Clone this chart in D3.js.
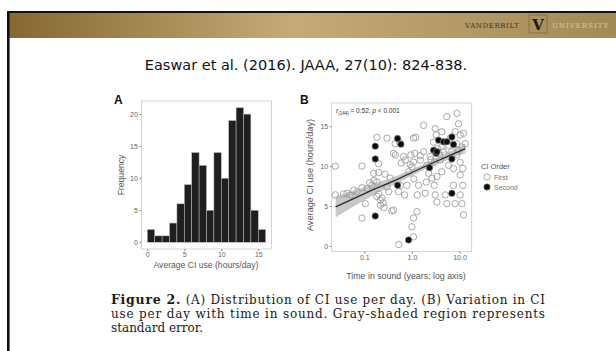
<!DOCTYPE html>
<html>
<head>
<meta charset="utf-8">
<script src="https://cdn.jsdelivr.net/npm/d3@7"></script>
<style>
  body { margin: 0; background: #fff; }
  svg { display: block; }
</style>
</head>
<body>
<svg id="slide" width="616" height="351"></svg>
<script>
// histogram (panel A): bin start (hours/day) and counts
var binStarts = [0,1,2,3,4,5,6,7,8,9,10,11,12,13,14,15]
var binCounts = [2,1,1,3,6,9,14,12,5,14,10,19,21,20,5,2]
var histXTicks = [0,5,10,15]
var histYTicks = [0,5,10,15,20]

// scatter (panel B): [years in sound, hours/day]
var firstOrder = [
  [0.0247,10.0],[0.0247,6.4],[0.0368,6.5],[0.0508,6.4],[0.0702,6.8],[0.0893,10.0],[0.0893,3.5],
  [0.105,5.3],[0.114,7.2],[0.145,7.6],[0.157,9.1],[0.184,8.0],[0.184,6.2],[0.200,10.3],[0.217,5.1],
  [0.217,5.75],[0.235,6.0],[0.184,13.6],[0.299,13.5],[0.351,8.5],[0.324,6.8],[0.380,4.4],[0.412,4.5],
  [0.412,11.6],[0.447,12.8],[0.569,7.6],[0.525,6.8],[0.668,11.2],[0.725,10.75],[0.785,7.6],[0.851,9.3],
  [0.923,10.2],[1.0,9.9],[1.08,13.5],[1.08,10.5],[1.08,3.5],[1.0,2.4],[1.08,1.15],[1.27,4.3],[1.38,7.6],
  [1.50,10.75],[1.76,11.8],[1.76,15.1],[1.90,6.6],[2.06,10.1],[2.24,9.1],[2.42,11.2],[2.63,8.5],
  [2.85,13.0],[2.94,7.6],[3.09,6.4],[3.09,14.7],[3.24,13.9],[3.35,8.7],[3.45,12.2],[3.63,11.6],
  [3.93,10.75],[4.26,12.4],[4.26,14.3],[4.62,11.8],[5.0,11.4],[5.0,6.4],[5.42,5.3],[5.42,16.2],
  [5.88,12.6],[5.88,10.1],[6.37,13.5],[6.91,11.8],[7.48,9.7],[7.48,7.6],[8.11,14.3],[8.79,12.8],
  [8.79,11.4],[8.79,16.6],[9.53,15.3],[9.53,12.0],[10.3,13.9],[10.3,10.5],[10.3,8.9],[10.3,6.4],
  [11.2,12.4],[11.2,5.3],[11.7,9.7],[11.7,7.6],[12.1,3.9],[13.2,12.8],[12.1,14.1],[4.26,9.3],
  [3.35,5.5],[8.11,5.3],[0.0433,6.6],[0.06,7.0],[0.09,7.3],[0.13,7.9],[0.16,8.2],[0.2,6.5],
  [0.25,5.4],[0.27,9.0],[0.3,7.4],[0.2,9.2],[0.26,4.8],[0.6,10.4],[0.7,6.4],[1.1,8.4],[1.3,6.4],
  [0.95,11.4],[1.5,11.3],[2.0,8.0],[2.5,10.8],[3.0,10.5],[1.2,13.6],[1.15,11.6],[0.55,13.0],
  [0.45,11.4],[0.53,0.2]
]
var secondOrder = [
  [0.170,12.5],[0.170,10.9],[0.170,3.75],[0.50,13.45],[0.588,12.75],[0.50,7.6],[0.851,0.75],
  [2.35,9.8],[2.85,12.0],[3.24,11.6],[3.63,13.25],[4.62,13.05],[5.42,13.05],[6.91,13.65],
  [7.48,12.7],[6.91,10.9],[6.91,6.6],[3.35,11.8]
]
// fitted line with standard error band
var fitYears = [0.025,0.063,0.158,0.40,1.0,2.5,6.3,13.2]
var fitHours = [4.9,6.0,7.1,8.1,9.2,10.3,11.35,12.2]
var seLow    = [3.6,5.05,6.4,7.6,8.8,9.95,10.9,11.6]
var seHigh   = [6.2,6.95,7.8,8.6,9.6,10.65,11.8,12.8]
var scatXTicks = [0.1,1,10]
var scatYTicks = [0,5,10,15]

var svg = d3.select('#slide')

// header bar
var grad = svg.append('defs').append('linearGradient').attr('id','gold')
grad.append('stop').attr('offset','0%').attr('stop-color','#856830')
grad.append('stop').attr('offset','47%').attr('stop-color','#c6aa78')
grad.append('stop').attr('offset','100%').attr('stop-color','#a28a57')
svg.append('rect').attr('x',8).attr('y',12).attr('width',608).attr('height',26).attr('fill','url(#gold)')
svg.append('line').attr('x1',7).attr('x2',616).attr('y1',12).attr('y2',12).style('stroke','#111').style('stroke-width',2.2)
svg.append('line').attr('x1',8.3).attr('x2',8.3).attr('y1',11).attr('y2',351).style('stroke','#111').style('stroke-width',2.6)

svg.append('text').attr('x',465).attr('y',28).text('VANDERBILT')
  .style('font-family','DejaVu Serif').style('font-size','7px').style('fill','#3a2f1c').style('letter-spacing','0.6px')
svg.append('rect').attr('x',529).attr('y',15).attr('width',18).attr('height',18)
  .attr('fill','none').style('stroke','#7a6a48').style('stroke-width',0.8)
svg.append('text').attr('x',538).attr('y',30).attr('text-anchor','middle').text('V')
  .style('font-family','DejaVu Serif').style('font-weight','bold').style('font-size','15px').style('fill','#1c1812')
svg.append('text').attr('x',552).attr('y',28).text('UNIVERSITY')
  .style('font-family','DejaVu Serif').style('font-size','7px').style('fill','#d9caa2').style('letter-spacing','1px')

// title
svg.append('text').attr('x',306).attr('y',70).attr('text-anchor','middle')
  .text('Easwar et al. (2016). JAAA, 27(10): 824-838.')
  .style('font-family','DejaVu Sans').style('font-size','14.5px').style('fill','#111')

var tickFont = function(sel){
  sel.selectAll('text').style('font-family','Liberation Sans').style('font-size','7px').style('fill','#666')
  sel.selectAll('line').style('stroke','#888')
  sel.select('.domain').remove()
}

// ---------- panel A ----------
var ax = d3.scaleLinear().domain([-0.8,16.8]).range([141.4,271.6])
var ay = d3.scaleLinear().domain([-1.05,22.05]).range([249,101])
var pA = svg.append('g')
pA.append('rect').attr('x',ax.range()[0]).attr('y',ay.range()[1])
  .attr('width',ax.range()[1]-ax.range()[0]).attr('height',ay.range()[0]-ay.range()[1])
  .attr('fill','#fff').style('stroke','#c8c8c8').style('stroke-width',0.8)
pA.selectAll('rect.bar').data(binCounts).enter().append('rect').attr('class','bar')
  .attr('x',function(d,i){ return ax(binStarts[i]) })
  .attr('y',function(d){ return ay(d) })
  .attr('width',function(d,i){ return ax(binStarts[i]+1)-ax(binStarts[i]) })
  .attr('height',function(d){ return ay(0)-ay(d) })
  .attr('fill','#1f1f1f').style('stroke','#bdbdbd').style('stroke-width',0.5)
pA.append('g').attr('transform','translate(0,249)')
  .call(d3.axisBottom(ax).tickValues(histXTicks).tickSize(2).tickPadding(1.5)).call(tickFont)
pA.append('g').attr('transform','translate(141.4,0)')
  .call(d3.axisLeft(ay).tickValues(histYTicks).tickSize(2).tickPadding(1.5)).call(tickFont)
pA.append('text').attr('x',206).attr('y',268).attr('text-anchor','middle').text('Average CI use (hours/day)')
  .style('font-family','Liberation Sans').style('font-size','8.6px').style('fill','#555')
pA.append('text').attr('transform','translate(124,175) rotate(-90)').attr('text-anchor','middle').text('Frequency')
  .style('font-family','Liberation Sans').style('font-size','8.6px').style('fill','#555')
pA.append('text').attr('x',114).attr('y',104).text('A')
  .style('font-family','Liberation Sans').style('font-weight','bold').style('font-size','12px').style('fill','#111')

// ---------- panel B ----------
var bx = d3.scaleLog().domain([0.0207,18]).range([331.7,471.7])
var by = d3.scaleLinear().domain([-0.71,17.9]).range([251.7,103])
var pB = svg.append('g')
pB.append('rect').attr('x',331.7).attr('y',103).attr('width',140).attr('height',148.7)
  .attr('fill','#fff').style('stroke','#c8c8c8').style('stroke-width',0.8)

var band = d3.area()
  .x(function(d,i){ return bx(fitYears[i]) })
  .y0(function(d,i){ return by(seLow[i]) })
  .y1(function(d,i){ return by(seHigh[i]) })
  .curve(d3.curveMonotoneX)
pB.append('path').datum(fitYears).attr('d',band).attr('fill','#9a9a9a').attr('opacity',0.55)

pB.selectAll('circle.first').data(firstOrder).enter().append('circle').attr('class','first')
  .attr('cx',function(d){ return bx(d[0]) })
  .attr('cy',function(d){ return by(d[1]) })
  .attr('r',3.2).attr('fill','none').style('stroke','#9a9a9a').style('stroke-width',0.85)

var line = d3.line()
  .x(function(d,i){ return bx(fitYears[i]) })
  .y(function(d,i){ return by(fitHours[i]) })
pB.append('path').datum(fitYears).attr('d',line).attr('fill','none').style('stroke','#2a2a2a').style('stroke-width',1.3)

pB.selectAll('circle.second').data(secondOrder).enter().append('circle').attr('class','second')
  .attr('cx',function(d){ return bx(d[0]) })
  .attr('cy',function(d){ return by(d[1]) })
  .attr('r',3.2).attr('fill','#0d0d0d').style('stroke','#8a8a8a').style('stroke-width',0.6)

pB.append('g').attr('transform','translate(0,251.7)')
  .call(d3.axisBottom(bx).tickValues(scatXTicks).tickFormat(d3.format('.1f')).tickSize(2).tickPadding(1.5)).call(tickFont)
pB.append('g').attr('transform','translate(331.7,0)')
  .call(d3.axisLeft(by).tickValues(scatYTicks).tickSize(2).tickPadding(1.5)).call(tickFont)

pB.append('text').attr('x',406).attr('y',279).attr('text-anchor','middle').text('Time in sound (years; log axis)')
  .style('font-family','Liberation Sans').style('font-size','8.8px').style('fill','#555')
pB.append('text').attr('transform','translate(313,175) rotate(-90)').attr('text-anchor','middle').text('Average CI use (hours/day)')
  .style('font-family','Liberation Sans').style('font-size','9.2px').style('fill','#555')
pB.append('text').attr('x',300).attr('y',104).text('B')
  .style('font-family','Liberation Sans').style('font-weight','bold').style('font-size','12px').style('fill','#111')

var stat = pB.append('text').attr('x',336).attr('y',113)
  .style('font-family','Liberation Sans').style('font-size','6.5px').style('fill','#333')
stat.append('tspan').text('r').style('font-style','italic')
stat.append('tspan').attr('dy',2).style('font-size','4.5px').text('(144)')
stat.append('tspan').attr('dy',-2).text(' = 0.52, ')
stat.append('tspan').text('p').style('font-style','italic')
stat.append('tspan').text(' < 0.001')

// legend
var leg = pB.append('g')
leg.append('text').attr('x',481).attr('y',169).text('CI Order')
  .style('font-family','Liberation Sans').style('font-size','7.5px').style('fill','#555')
leg.append('circle').attr('cx',487).attr('cy',177).attr('r',3.2).attr('fill','none').style('stroke','#9a9a9a').style('stroke-width',0.85)
leg.append('circle').attr('cx',487).attr('cy',187).attr('r',3.2).attr('fill','#0d0d0d').style('stroke','#8a8a8a').style('stroke-width',0.6)
leg.append('text').attr('x',494).attr('y',179.5).text('First')
  .style('font-family','Liberation Sans').style('font-size','7px').style('fill','#777')
leg.append('text').attr('x',494).attr('y',189.5).text('Second')
  .style('font-family','Liberation Sans').style('font-size','7px').style('fill','#777')

// caption
var cap = svg.append('g').style('font-family','DejaVu Serif').style('fill','#1a1a1a')
var l1 = cap.append('text').attr('x',111).attr('y',304).attr('textLength',434).attr('lengthAdjust','spacing')
  .style('font-size','12px')
l1.append('tspan').text('Figure 2.').style('font-weight','bold').style('font-size','12.5px')
l1.append('tspan').text(' (A) Distribution of CI use per day. (B) Variation in CI')
cap.append('text').attr('x',111).attr('y',318).attr('textLength',434).attr('lengthAdjust','spacing')
  .style('font-size','12px').text('use per day with time in sound. Gray-shaded region represents')
cap.append('text').attr('x',111).attr('y',332)
  .style('font-size','12px').text('standard error.')
</script>
</body>
</html>
